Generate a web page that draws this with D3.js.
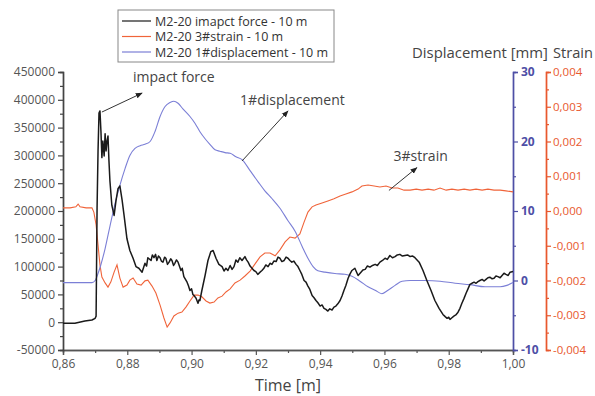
<!DOCTYPE html>
<html>
<head>
<meta charset="utf-8">
<script src="https://cdn.jsdelivr.net/npm/d3@7"></script>
<style>
  body { margin: 0; background: #fff; }
  text { font-family: "Open Sans", sans-serif; }
</style>
</head>
<body>
<div id="chart"></div>
<script>
// time [m] / value pairs
const forceSeries = [
  [0.8600,-2000],[0.8637,-2000],[0.8668,2000],[0.8690,4000],[0.8700,7000],[0.8703,11000],
  [0.8706,206000],[0.8709,308000],[0.8712,376000],[0.8715,380000],[0.8718,344000],[0.8721,296000],
  [0.8724,326000],[0.8728,299000],[0.8731,339000],[0.8734,308000],[0.8737,326000],[0.8740,335000],
  [0.8743,290000],[0.8746,254000],[0.8752,210000],[0.8759,192000],[0.8765,219000],[0.8771,240000],
  [0.8777,245000],[0.8784,219000],[0.8790,192000],[0.8799,150000],[0.8808,129000],[0.8818,115000],
  [0.8827,100000],[0.8836,97000],[0.8846,90000],[0.8855,106000],[0.8860,101000],[0.8864,116000],[0.8874,111000],
  [0.8878,121000],[0.8883,116000],[0.8888,122000],[0.8892,111000],[0.8897,119000],[0.8902,116000],[0.8906,110000],
  [0.8911,108000],[0.8916,117000],[0.8920,115000],[0.8925,104000],[0.8930,108000],[0.8935,114000],
  [0.8939,111000],[0.8944,102000],[0.8948,106000],[0.8953,112000],[0.8958,108000],[0.8967,93000],[0.8971,97000],[0.8976,82000],[0.8986,72000],
  [0.8990,66000],[0.8995,57000],[0.9000,60000],[0.9004,50000],[0.9009,47000],[0.9014,43000],[0.9020,34000],[0.9023,40000],[0.9026,39000],[0.9032,57000],
  [0.9042,84000],[0.9051,111000],[0.9060,127000],[0.9067,129000],[0.9076,115000],[0.9085,104000],
  [0.9095,100000],[0.9101,92000],[0.9107,97000],[0.9113,93000],[0.9120,102000],[0.9126,95000],[0.9132,100000],[0.9138,112000],[0.9144,108000],[0.9150,116000],[0.9157,111000],
  [0.9166,118000],[0.9171,112000],[0.9176,108000],[0.9182,101000],[0.9188,97000],[0.9194,93000],[0.9200,91000],[0.9206,86000],[0.9213,90000],[0.9219,93000],[0.9225,97000],
  [0.9231,103000],[0.9238,100000],[0.9244,106000],[0.9250,104000],[0.9256,110000],[0.9263,109000],[0.9269,117000],[0.9275,115000],[0.9281,109000],[0.9288,111000],[0.9294,117000],[0.9300,115000],
  [0.9306,111000],[0.9312,108000],[0.9318,110000],[0.9325,104000],[0.9331,100000],[0.9337,93000],[0.9343,86000],[0.9350,75000],[0.9356,72000],[0.9362,65000],[0.9368,59000],[0.9375,48000],
  [0.9381,44000],[0.9387,39000],[0.9393,35000],[0.9400,29000],[0.9406,31000],[0.9412,25000],[0.9418,23000],[0.9424,20000],[0.9430,24000],[0.9437,22000],[0.9443,27000],[0.9449,29000],
  [0.9455,33000],[0.9462,39000],[0.9468,47000],[0.9474,57000],[0.9480,66000],[0.9487,79000],[0.9493,87000],[0.9499,93000],[0.9508,97000],[0.9518,84000],
  [0.9527,90000],[0.9533,94000],[0.9540,95000],[0.9547,101000],[0.9555,99000],[0.9563,102000],[0.9571,104000],[0.9578,102000],[0.9586,108000],[0.9594,111000],[0.9602,115000],[0.9609,113000],
  [0.9617,120000],[0.9625,116000],[0.9633,118000],[0.9640,121000],[0.9648,122000],[0.9656,119000],[0.9664,120000],[0.9672,121000],[0.9680,118000],[0.9688,119000],[0.9695,116000],
  [0.9708,108000],[0.9720,93000],[0.9732,75000],[0.9745,57000],[0.9757,39000],[0.9770,25000],
  [0.9782,14000],[0.9789,10000],[0.9795,7000],[0.9800,9000],[0.9804,5000],[0.9810,8000],[0.9816,11000],[0.9822,13000],[0.9829,18000],[0.9835,25000],[0.9841,34000],[0.9847,42000],
  [0.9854,52000],[0.9860,60000],[0.9866,68000],[0.9872,70000],[0.9879,72000],[0.9885,70000],[0.9891,73000],[0.9897,75000],[0.9904,77000],[0.9910,74000],[0.9916,77000],[0.9922,80000],
  [0.9928,81000],[0.9935,78000],[0.9941,79000],[0.9947,83000],[0.9953,82000],[0.9960,80000],[0.9966,84000],[0.9972,88000],[0.9978,86000],[0.9985,84000],[0.9991,90000],
  [1.0000,91000]
];

const strainSeries = [
  [0.8600,0.00009],[0.8622,0.00009],[0.8640,0.00012],[0.8647,0.00020],[0.8653,0.00012],[0.8672,0.00009],
  [0.8690,0.00009],[0.8696,-0.00003],[0.8703,-0.00040],[0.8709,-0.00098],[0.8715,-0.00155],[0.8721,-0.00190],
  [0.8731,-0.00207],[0.8740,-0.00219],[0.8749,-0.00204],[0.8759,-0.00176],[0.8768,-0.00155],[0.8777,-0.00193],
  [0.8787,-0.00219],[0.8799,-0.00213],[0.8808,-0.00199],[0.8818,-0.00193],[0.8830,-0.00210],[0.8843,-0.00213],
  [0.8855,-0.00201],[0.8864,-0.00199],[0.8877,-0.00216],[0.8889,-0.00236],[0.8902,-0.00271],[0.8914,-0.00308],
  [0.8924,-0.00334],[0.8933,-0.00322],[0.8945,-0.00302],[0.8958,-0.00294],[0.8970,-0.00291],[0.8983,-0.00276],
  [0.8995,-0.00259],[0.9008,-0.00242],[0.9020,-0.00242],[0.9032,-0.00247],[0.9045,-0.00259],[0.9057,-0.00265],
  [0.9070,-0.00262],[0.9082,-0.00250],[0.9095,-0.00245],[0.9107,-0.00233],[0.9120,-0.00224],[0.9135,-0.00207],
  [0.9151,-0.00199],[0.9166,-0.00187],[0.9182,-0.00173],[0.9197,-0.00153],[0.9213,-0.00132],[0.9228,-0.00121],
  [0.9244,-0.00121],[0.9260,-0.00129],[0.9275,-0.00112],[0.9291,-0.00089],[0.9306,-0.00075],[0.9322,-0.00078],
  [0.9337,-0.00066],[0.9350,-0.00032],[0.9362,-0.00003],[0.9375,0.00012],[0.9387,0.00017],[0.9406,0.00023],
  [0.9424,0.00029],[0.9443,0.00035],[0.9462,0.00043],[0.9480,0.00049],[0.9499,0.00055],[0.9518,0.00063],
  [0.9530,0.00072],[0.9549,0.00075],[0.9568,0.00072],[0.9586,0.00069],[0.9605,0.00072],[0.9624,0.00066],
  [0.9642,0.00066],[0.9661,0.00060],[0.9680,0.00060],[0.9699,0.00063],[0.9717,0.00060],[0.9736,0.00063],
  [0.9754,0.00060],[0.9773,0.00066],[0.9792,0.00060],[0.9810,0.00063],[0.9829,0.00060],[0.9848,0.00063],
  [0.9866,0.00060],[0.9885,0.00063],[0.9904,0.00060],[0.9922,0.00063],[0.9941,0.00060],[0.9960,0.00060],
  [0.9978,0.00058],[1.0000,0.00055]
];

const dispSeries = [
  [0.8600,-0.3],[0.8690,-0.3],[0.8700,0.0],[0.8709,1.0],[0.8718,2.3],[0.8731,4.6],[0.8746,7.8],
  [0.8762,11.1],[0.8777,13.7],[0.8793,16.1],[0.8808,18.0],[0.8824,19.0],[0.8840,19.4],[0.8855,19.6],
  [0.8871,20.0],[0.8886,21.4],[0.8902,23.6],[0.8917,25.0],[0.8933,25.6],[0.8945,25.8],[0.8958,25.5],
  [0.8973,24.7],[0.8995,23.6],[0.9011,22.6],[0.9026,21.4],[0.9042,20.4],[0.9057,19.6],[0.9073,18.8],
  [0.9088,18.6],[0.9104,18.4],[0.9120,18.3],[0.9138,17.8],[0.9157,17.4],[0.9182,15.8],[0.9207,14.2],
  [0.9228,12.9],[0.9250,11.8],[0.9275,10.4],[0.9300,8.6],[0.9322,7.1],[0.9344,4.9],[0.9362,3.2],
  [0.9378,2.0],[0.9393,1.4],[0.9415,1.2],[0.9446,1.0],[0.9477,0.9],[0.9499,0.6],[0.9524,-0.1],
  [0.9549,-0.9],[0.9571,-1.4],[0.9592,-1.9],[0.9611,-1.4],[0.9633,-0.7],[0.9655,-0.1],[0.9680,0.0],
  [0.9726,0.0],[0.9773,-0.1],[0.9820,-0.4],[0.9866,-0.6],[0.9913,-0.9],[0.9960,-0.9],[0.9981,-0.7],
  [1.0000,-0.3]
];

const legendLabels = ["M2-20 imapct force - 10 m", "M2-20 3#strain - 10 m", "M2-20 1#displacement - 10 m"];
const seriesColors = ["#1a1a1a", "#f0643a", "#7b7fd6"];

const forceTicks = [-50000, 0, 50000, 100000, 150000, 200000, 250000, 300000, 350000, 400000, 450000];
const dispTicks = [-10, 0, 10, 20, 30];
const strainTicks = [-0.004, -0.003, -0.002, -0.001, 0, 0.001, 0.002, 0.003, 0.004];
const timeTicks = [0.86, 0.88, 0.90, 0.92, 0.94, 0.96, 0.98, 1.00];

// annotation: label + arrow (start -> head), in time / force units
const annotations = [
  { text: "impact force",   tx: 0.8818, ty: 432000, from: [0.8721, 378000], to: [0.8846, 412000] },
  { text: "1#displacement", tx: 0.9151, ty: 390000, from: [0.9157, 290000], to: [0.9300, 380000] },
  { text: "3#strain",       tx: 0.9628, ty: 290000, from: [0.9614, 237000], to: [0.9701, 278000] }
];

const commaLocale = d3.formatLocale({ decimal: ",", thousands: "", grouping: [3], currency: ["", ""], minus: "-" });
const fmt2 = commaLocale.format(".2f"),
      fmt3 = commaLocale.format(".3f"),
      fmtInt = commaLocale.format("d");

const margin = { top: 72, right: 82, bottom: 46, left: 63 },
      width = 595 - margin.left - margin.right,
      height = 396 - margin.top - margin.bottom;

const svg = d3.select("#chart")
  .append("svg")
  .attr("width", 595)
  .attr("height", 396)
  .append("g")
  .attr("transform", `translate(${margin.left},${margin.top})`);

const x = d3.scaleLinear().domain([0.86, 1.0]).range([0, width]);
const yForce = d3.scaleLinear().domain([-50000, 450000]).range([height, 0]);
const yDisp = d3.scaleLinear().domain([-10, 30]).range([height, 0]);
const yStrain = d3.scaleLinear().domain([-0.004, 0.004]).range([height, 0]);

function styleAxis(g, color, fontColor) {
  g.select(".domain").attr("stroke", color).attr("stroke-width", 1.4);
  g.selectAll(".tick line").attr("stroke", color).attr("stroke-width", 1.2);
  g.selectAll("text").attr("fill", fontColor).attr("font-size", "12px")
    .attr("font-family", "Open Sans, sans-serif");
}

// x axis (minor + major)
svg.append("g")
  .attr("transform", `translate(0,${height})`)
  .call(d3.axisBottom(x).tickValues(d3.range(0.87, 1.0, 0.02)).tickSize(3).tickFormat(""))
  .call(g => styleAxis(g, "#555", "#555"));
svg.append("g")
  .attr("transform", `translate(0,${height})`)
  .call(d3.axisBottom(x).tickValues(timeTicks).tickSize(5).tickPadding(4).tickFormat(fmt2))
  .call(g => styleAxis(g, "#555", "#555"));

// left force axis
svg.append("g")
  .call(d3.axisLeft(yForce).tickValues(d3.range(-25000, 450000, 50000)).tickSize(3).tickFormat(""))
  .call(g => styleAxis(g, "#444", "#444"));
svg.append("g")
  .call(d3.axisLeft(yForce).tickValues(forceTicks).tickSize(5).tickPadding(3).tickFormat(fmtInt))
  .call(g => styleAxis(g, "#444", "#555"));

// displacement axis
const blueAxis = "#4e4fa6";
svg.append("g")
  .attr("transform", `translate(${width},0)`)
  .call(d3.axisRight(yDisp).tickValues(d3.range(-5, 30, 10)).tickSize(3).tickFormat(""))
  .call(g => styleAxis(g, blueAxis, blueAxis));
svg.append("g")
  .attr("transform", `translate(${width},0)`)
  .call(d3.axisRight(yDisp).tickValues(dispTicks).tickSize(5).tickPadding(3).tickFormat(fmtInt))
  .call(g => styleAxis(g, blueAxis, blueAxis))
  .call(g => g.selectAll("text").attr("font-weight", "bold"));

// strain axis
const redAxis = "#e8582e";
svg.append("g")
  .attr("transform", `translate(${width + 33},0)`)
  .call(d3.axisRight(yStrain).tickValues(d3.range(-0.0035, 0.004, 0.001)).tickSize(3).tickFormat(""))
  .call(g => styleAxis(g, redAxis, redAxis));
svg.append("g")
  .attr("transform", `translate(${width + 33},0)`)
  .call(d3.axisRight(yStrain).tickValues(strainTicks).tickSize(5).tickPadding(2).tickFormat(fmt3))
  .call(g => styleAxis(g, redAxis, redAxis))
  .call(g => g.selectAll("text").attr("font-size", "11.5px"));

// axis titles
svg.append("text")
  .attr("x", width / 2)
  .attr("y", height + 41)
  .attr("text-anchor", "middle")
  .attr("font-size", "16px")
  .attr("fill", "#444")
  .text("Time [m]");

svg.append("text")
  .attr("x", 412 - margin.left)
  .attr("y", -14)
  .attr("font-size", "15px")
  .attr("textLength", 136)
  .attr("lengthAdjust", "spacingAndGlyphs")
  .attr("fill", "#444")
  .text("Displacement [mm]");

svg.append("text")
  .attr("x", 553 - margin.left)
  .attr("y", -14)
  .attr("font-size", "15px")
  .attr("textLength", 40)
  .attr("lengthAdjust", "spacingAndGlyphs")
  .attr("fill", "#444")
  .text("Strain");

// lines
const lineForce = d3.line().x(d => x(d[0])).y(d => yForce(d[1]));
const lineStrain = d3.line().x(d => x(d[0])).y(d => yStrain(d[1]));
const lineDisp = d3.line().curve(d3.curveMonotoneX).x(d => x(d[0])).y(d => yDisp(d[1]));

svg.append("path").datum(strainSeries)
  .attr("d", lineStrain).attr("fill", "none")
  .attr("stroke", seriesColors[1]).attr("stroke-width", 1.1);

svg.append("path").datum(dispSeries)
  .attr("d", lineDisp).attr("fill", "none")
  .attr("stroke", seriesColors[2]).attr("stroke-width", 1.1);

svg.append("path").datum(forceSeries)
  .attr("d", lineForce).attr("fill", "none")
  .attr("stroke", seriesColors[0]).attr("stroke-width", 1.5)
  .attr("stroke-linejoin", "round");

// arrow marker
svg.append("defs").append("marker")
  .attr("id", "arrow")
  .attr("viewBox", "0 0 10 10")
  .attr("refX", 9).attr("refY", 5)
  .attr("markerWidth", 7).attr("markerHeight", 7)
  .attr("orient", "auto")
  .append("path")
  .attr("d", "M0,1L10,5L0,9Z")
  .attr("fill", "#222");

svg.selectAll("line.annot")
  .data(annotations)
  .join("line")
  .attr("class", "annot")
  .attr("x1", d => x(d.from[0])).attr("y1", d => yForce(d.from[1]))
  .attr("x2", d => x(d.to[0])).attr("y2", d => yForce(d.to[1]))
  .attr("stroke", "#333").attr("stroke-width", 1)
  .attr("marker-end", "url(#arrow)");

svg.selectAll("text.annot")
  .data(annotations)
  .join("text")
  .attr("class", "annot")
  .attr("x", d => x(d.tx)).attr("y", d => yForce(d.ty))
  .attr("font-size", "14px")
  .attr("fill", "#444")
  .text(d => d.text);

// legend
const legend = svg.append("g").attr("transform", `translate(${118 - margin.left},${10 - margin.top})`);
legend.append("rect")
  .attr("width", 216).attr("height", 52)
  .attr("fill", "#fff").attr("stroke", "#888").attr("stroke-width", 1);
legendLabels.forEach((label, i) => {
  const ly = 11 + i * 15.5;
  legend.append("line")
    .attr("x1", 4).attr("x2", 33).attr("y1", ly).attr("y2", ly)
    .attr("stroke", seriesColors[i]).attr("stroke-width", 1.2);
  legend.append("text")
    .attr("x", 37).attr("y", ly + 4.5)
    .attr("font-size", "12.5px")
    .attr("fill", "#333")
    .text(label);
});
</script>
</body>
</html>
